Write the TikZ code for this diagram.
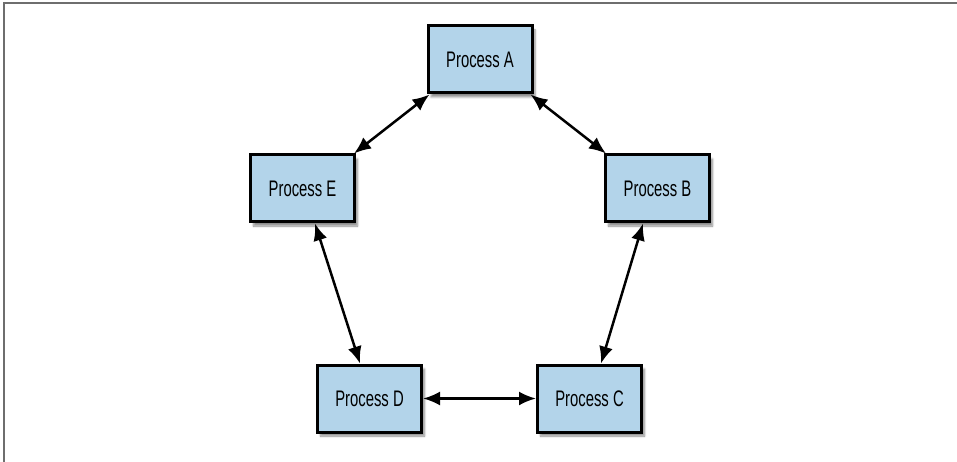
\documentclass[tikz,border=0pt]{standalone}
\usepackage{fontspec}
\setmainfont{Liberation Sans}[FakeStretch=0.66]
\usetikzlibrary{arrows.meta, shadows.blur}
\definecolor{procblue}{RGB}{179,212,234}
\definecolor{framegray}{RGB}{110,110,110}
\begin{document}
\begin{tikzpicture}[x=1pt, y=-1pt,
    process/.style={draw=black, line width=3pt, fill=procblue,
        minimum width=104pt, minimum height=67pt, inner sep=0pt,
        font=\fontsize{22.5}{26}\selectfont,
        blur shadow={shadow xshift=3pt, shadow yshift=-4pt, shadow blur steps=6, shadow opacity=45}},
    link/.style={line width=2.5pt, {Latex[length=17pt,width=14pt]}-{Latex[length=17pt,width=14pt]}}]
    % 1. Khung
    \useasboundingbox (0,0) rectangle (957,462);
    \draw[framegray, line width=2pt] (3.5,462) -- (3.5,3.5) -- (957,3.5);

    % 2. Các tiến trình
    \node[process] (A) at (480,59.5) {Process A};
    \node[process] (B) at (657.5,188.5) {Process B};
    \node[process] (C) at (589.5,398.5) {Process C};
    \node[process] (D) at (369.5,398.5) {Process D};
    \node[process] (E) at (302.5,188.5) {Process E};

    % 3. Các mũi tên hai chiều
    \draw[link] ([xshift=3pt]A.south west) -- ([xshift=-2pt]E.north east);
    \draw[link] ([xshift=-3pt]A.south east) -- ([xshift=2pt]B.north west);
    \draw[link] ([xshift=12.5pt]E.south) -- ([xshift=-9.5pt]D.north);
    \draw[link] ([xshift=-14.5pt]B.south) -- ([xshift=11.5pt]C.north);
    \draw[link] (D.east) -- (C.west);
\end{tikzpicture}
\end{document}
